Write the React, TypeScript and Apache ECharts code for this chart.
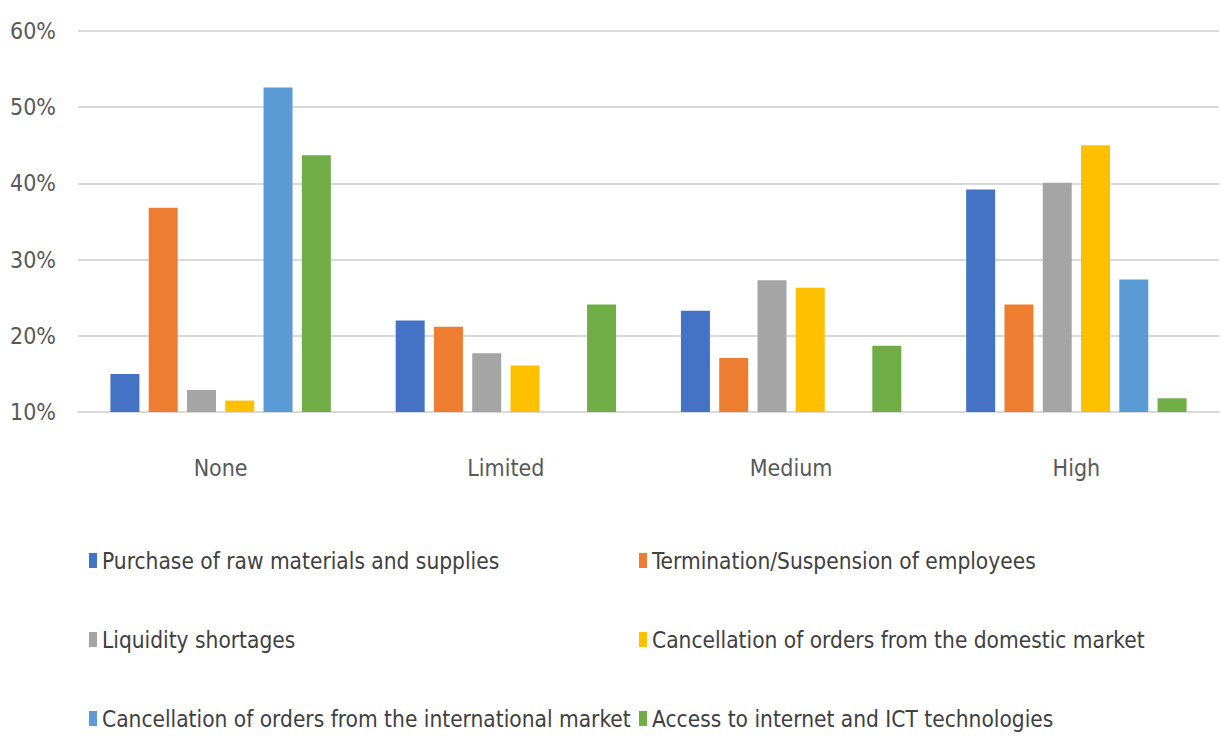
import React, { useEffect, useRef } from "react";
import * as echarts from "echarts";

const categories = ["None", "Limited", "Medium", "High"];
const seriesNames = [
  "Purchase of raw materials and supplies",
  "Termination/Suspension of employees",
  "Liquidity shortages",
  "Cancellation of orders from the domestic market",
  "Cancellation of orders from the international market",
  "Access to internet and ICT technologies",
];
const purchase = [15.0, 22.0, 23.3, 39.2];
const termination = [36.8, 21.2, 17.1, 24.1];
const liquidity = [12.9, 17.7, 27.3, 40.1];
const domestic = [11.5, 16.1, 26.3, 45.0];
const international = [52.6, null, null, 27.4];
const ictAccess = [43.7, 24.1, 18.7, 11.8];
const yTicks = [10, 20, 30, 40, 50, 60];

const colors = ["#4472C4", "#ED7D31", "#A5A5A5", "#FFC000", "#5B9BD5", "#70AD47"];
const FONT = "'Liberation Sans Narrow', 'DejaVu Sans Condensed', 'Liberation Sans', sans-serif";

export default function App() {
  const ref = useRef<HTMLDivElement>(null);
  useEffect(() => {
    if (!ref.current) return;
    const chart = echarts.init(ref.current, null, { renderer: "svg" });
    const values = [purchase, termination, liquidity, domestic, international, ictAccess];
    const legendCommon = {
      orient: "vertical",
      icon: "rect",
      padding: 0,
      itemWidth: 8,
      itemHeight: 15,
      itemGap: 56,
      textStyle: { fontFamily: FONT, fontSize: 22.5, color: "#404040" },
    };
    chart.setOption({
      animation: false,
      color: colors,
      grid: { left: 78, right: 2, top: 31, bottom: 328, containLabel: false },
      legend: [
        { ...legendCommon, left: 89, top: 549, data: [seriesNames[0], seriesNames[2], seriesNames[4]] },
        { ...legendCommon, left: 639, top: 549, data: [seriesNames[1], seriesNames[3], seriesNames[5]] },
      ],
      xAxis: {
        type: "category",
        data: categories,
        axisLine: { lineStyle: { color: "#d9d9d9", width: 2 } },
        axisTick: { show: false },
        axisLabel: { fontFamily: FONT, fontSize: 23, color: "#595959", margin: 44 },
      },
      yAxis: {
        type: "value",
        min: yTicks[0],
        max: yTicks[yTicks.length - 1],
        interval: 10,
        axisLine: { show: false },
        axisTick: { show: false },
        splitLine: { lineStyle: { color: "#d9d9d9", width: 2 } },
        axisLabel: {
          fontFamily: FONT,
          fontSize: 23,
          color: "#595959",
          margin: 22,
          formatter: (v: number) => `${v}%`,
        },
      },
      series: values.map((d, i) => ({
        name: seriesNames[i],
        type: "bar",
        data: d,
        barWidth: 29,
        barGap: "32%",
        itemStyle: { color: colors[i] },
      })),
    });
    return () => chart.dispose();
  }, []);
  return (
    <div
      ref={ref}
      style={{ position: "fixed", left: 0, top: 0, width: 1221, height: 740, background: "#fff" }}
    />
  );
}
